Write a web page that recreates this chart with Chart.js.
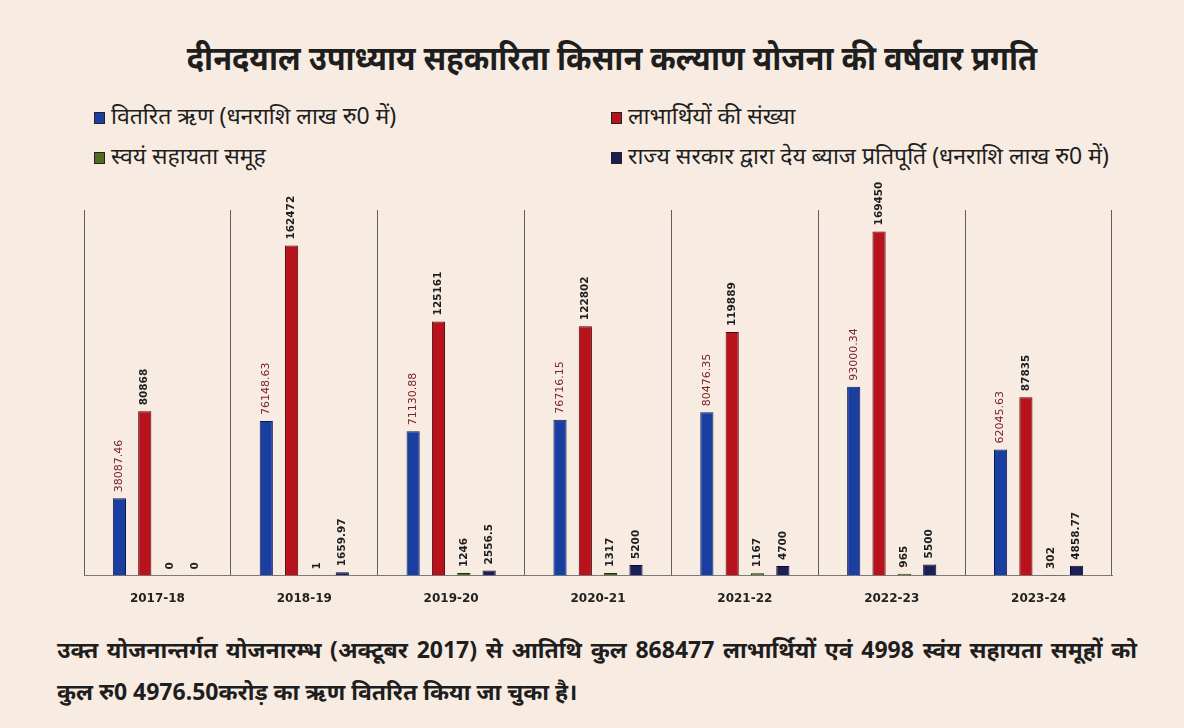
<!DOCTYPE html>
<html lang="hi">
<head>
<meta charset="utf-8">
<title>दीनदयाल उपाध्याय सहकारिता किसान कल्याण योजना की वर्षवार प्रगति</title>
<script src="https://cdn.jsdelivr.net/npm/chart.js@4.4.1/dist/chart.umd.min.js"></script>
<style>
  html, body {
    margin: 0;
    padding: 0;
    width: 1184px;
    height: 728px;
    overflow: hidden;
    background: #f8ece2;
    font-family: "Noto Sans", "DejaVu Sans", sans-serif;
    color: #1e1e1e;
  }
  .title {
    position: absolute;
    top: 34px;
    left: 20px;
    width: 1184px;
    text-align: center;
    font-size: 34px;
    font-weight: bold;
    transform: scaleX(0.905);
  }
  .legend {
    position: absolute;
    top: 99px;
    left: 94px;
    width: 1060px;
    display: grid;
    grid-template-columns: 517px auto;
    row-gap: 8px;
    font-size: 23px;
  }
  .legend span.box {
    display: inline-block;
    width: 9px;
    height: 10px;
    border: 1px solid #222;
    margin-right: 6px;
    vertical-align: middle;
  }
  .chart-box {
    position: absolute;
    top: 170px;
    left: 0;
    width: 1184px;
    height: 455px;
  }
  .note {
    position: absolute;
    top: 628px;
    left: 57px;
    width: 1080px;
    font-size: 23px;
    font-weight: bold;
    line-height: 42px;
  }
  .note .first {
    text-align: justify;
    text-align-last: justify;
  }
</style>
</head>
<body>
<div class="title">दीनदयाल उपाध्याय सहकारिता किसान कल्याण योजना की वर्षवार प्रगति</div>
<div class="legend" id="legend"></div>
<div class="chart-box"><canvas id="barChart"></canvas></div>
<div class="note">
  <div class="first">उक्त योजनान्तर्गत योजनारम्भ (अक्टूबर 2017) से आतिथि कुल 868477 लाभार्थियों एवं 4998 स्वंय सहायता समूहों को</div>
  <div>कुल रु0 4976.50करोड़ का ऋण वितरित किया जा चुका है।</div>
</div>

<script>
// Financial years
let years = ["2017-18", "2018-19", "2019-20", "2020-21", "2021-22", "2022-23", "2023-24"];

// Series names (legend order)
let seriesNames = [
  "वितरित ऋण (धनराशि लाख रु0 में)",
  "लाभार्थियों की संख्या",
  "स्वयं सहायता समूह",
  "राज्य सरकार द्वारा देय ब्याज प्रतिपूर्ति (धनराशि लाख रु0 में)"
];

// Values
let loans = [38087.46, 76148.63, 71130.88, 76716.15, 80476.35, 93000.34, 62045.63];
let beneficiaries = [80868, 162472, 125161, 122802, 119889, 169450, 87835];
let selfHelpGroups = [0, 1, 1246, 1317, 1167, 965, 302];
let interestRefund = [0, 1659.97, 2556.5, 5200, 4700, 5500, 4858.77];

let seriesData = [loans, beneficiaries, selfHelpGroups, interestRefund];
let fillColors = ["#1b3fa0", "#b8121c", "#4f6d1c", "#1c1f55"];
let borderColors = ["#0c1a55", "#4a0508", "#1e2a08", "#08082a"];
let labelColors = ["#7a2222", "#1e1e1e", "#1e1e1e", "#1e1e1e"];
let labelFonts = ["11px 'DejaVu Sans'", "bold 10.5px 'DejaVu Sans'", "bold 10.5px 'DejaVu Sans'", "bold 10.5px 'DejaVu Sans'"];

// Build the legend in two columns like the original
let legendDiv = document.getElementById("legend");
seriesNames.forEach(function (name, i) {
  let item = document.createElement("div");
  let box = document.createElement("span");
  box.className = "box";
  box.style.backgroundColor = fillColors[i];
  item.appendChild(box);
  item.appendChild(document.createTextNode(name));
  legendDiv.appendChild(item);
});

// Plugin to write the values above each bar, rotated
const valueLabels = {
  id: "valueLabels",
  afterDatasetsDraw(chart) {
    const ctx = chart.ctx;
    chart.data.datasets.forEach(function (ds, di) {
      const meta = chart.getDatasetMeta(di);
      meta.data.forEach(function (bar, i) {
        ctx.save();
        ctx.translate(bar.x, bar.y - 6);
        ctx.rotate(-Math.PI / 2);
        ctx.font = labelFonts[di];
        ctx.fillStyle = labelColors[di];
        ctx.textAlign = "left";
        ctx.textBaseline = "middle";
        ctx.fillText(String(ds.data[i]), 0, 0);
        ctx.restore();
      });
    });
  }
};

const barCtx = document.getElementById("barChart").getContext("2d");

let datasets = seriesData.map(function (values, i) {
  return {
    label: seriesNames[i],
    data: values,
    backgroundColor: fillColors[i],
    borderColor: borderColors[i],
    borderWidth: 1,
    categoryPercentage: 0.69,
    barPercentage: 0.52
  };
});

let barChart = new Chart(barCtx, {
  type: "bar",
  data: {
    labels: years,
    datasets: datasets
  },
  options: {
    responsive: true,
    maintainAspectRatio: false,
    animation: false,
    layout: {
      padding: { left: 84, right: 72, top: 40, bottom: 3 }
    },
    plugins: {
      legend: { display: false },
      tooltip: { enabled: false }
    },
    scales: {
      x: {
        grid: {
          offset: true,
          color: "#5e5e5e",
          lineWidth: 1,
          drawTicks: false
        },
        border: { display: true, color: "#7a7a7a" },
        ticks: {
          padding: 16,
          color: "#222",
          font: { family: "DejaVu Sans", size: 12, weight: "bold" }
        }
      },
      y: {
        display: false,
        min: 0,
        max: 180000
      }
    }
  },
  plugins: [valueLabels]
});
</script>
</body>
</html>
